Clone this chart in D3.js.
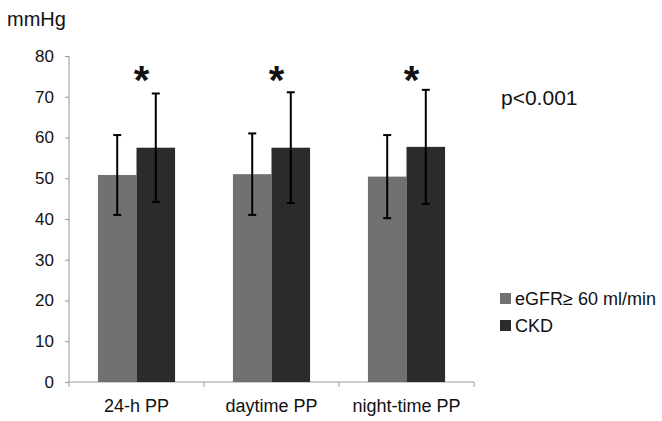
<!DOCTYPE html>
<html>
<head>
<meta charset="utf-8">
<script src="https://cdnjs.cloudflare.com/ajax/libs/d3/7.8.5/d3.min.js"></script>
<style>
  body { margin: 0; background: #fff; }
  svg text { font-family: "Liberation Sans", Arial, sans-serif; fill: #111; }
</style>
</head>
<body>
<div id="chart"></div>
<script>
var categories = ['24-h PP', 'daytime PP', 'night-time PP'];
var seriesNames = ['eGFR\u2265 60 ml/min', 'CKD'];
var egfrMeans = [50.8, 51.0, 50.4];
var egfrSD = [9.8, 10.0, 10.2];
var ckdMeans = [57.5, 57.5, 57.7];
var ckdSD = [13.3, 13.6, 14.0];
var yTicks = [0, 10, 20, 30, 40, 50, 60, 70, 80];

(function() {
  var width = 662, height = 421;
  var left = 69, right = 474, top = 56, bottom = 382;
  var colors = ['#717171', '#2b2b2b'];
  var svg, x, xi, y, rows, g, legend;

  svg = d3.select('#chart').append('svg')
    .attr('width', width)
    .attr('height', height);

  x = d3.scaleBand().domain(categories).range([left, right]).paddingInner(0).paddingOuter(0);
  // bars sit in the middle of each band, gap ~ 150% of one bar
  xi = d3.scaleBand().domain([0, 1]).range([0, x.bandwidth()]).paddingInner(0).paddingOuter(0.75);
  y = d3.scaleLinear().domain([0, 80]).range([bottom, top]);

  rows = categories.map(function(c, i) {
    return {
      cat: c,
      vals: [
        { s: 0, m: egfrMeans[i], sd: egfrSD[i] },
        { s: 1, m: ckdMeans[i], sd: ckdSD[i] }
      ]
    };
  });

  // y axis
  var yAxis = svg.append('g')
    .attr('transform', 'translate(' + left + ',0)')
    .call(d3.axisLeft(y).tickValues(yTicks).tickSize(4).tickPadding(11));
  yAxis.select('.domain').attr('stroke', '#9a9a9a').attr('d', 'M0,' + top + 'V' + bottom);
  yAxis.selectAll('.tick line').attr('stroke', '#9a9a9a');
  yAxis.selectAll('.tick text').style('font-size', '17px').attr('fill', '#111');

  // x axis with boundary ticks
  var xAxis = svg.append('g').attr('transform', 'translate(0,' + bottom + ')');
  xAxis.append('line')
    .attr('x1', left).attr('x2', right)
    .attr('stroke', '#9a9a9a');
  xAxis.selectAll('line.sep')
    .data(categories.concat(['end']))
    .enter().append('line')
    .attr('class', 'sep')
    .attr('x1', function(d, i) { return left + i * x.bandwidth(); })
    .attr('x2', function(d, i) { return left + i * x.bandwidth(); })
    .attr('y1', 0).attr('y2', 5)
    .attr('stroke', '#9a9a9a');
  xAxis.selectAll('text')
    .data(categories)
    .enter().append('text')
    .attr('x', function(d) { return x(d) + x.bandwidth() / 2; })
    .attr('y', 30)
    .attr('text-anchor', 'middle')
    .style('font-size', '18px')
    .text(function(d) { return d; });

  g = svg.selectAll('g.group')
    .data(rows)
    .enter().append('g')
    .attr('class', 'group')
    .attr('transform', function(d) { return 'translate(' + x(d.cat) + ',0)'; });

  g.selectAll('rect')
    .data(function(d) { return d.vals; })
    .enter().append('rect')
    .attr('x', function(d) { return xi(d.s); })
    .attr('y', function(d) { return y(d.m); })
    .attr('width', xi.bandwidth())
    .attr('height', function(d) { return y(0) - y(d.m); })
    .attr('fill', function(d) { return colors[d.s]; });

  // error bars
  var eb = g.selectAll('g.err')
    .data(function(d) { return d.vals; })
    .enter().append('g')
    .attr('class', 'err')
    .attr('stroke', '#000')
    .attr('stroke-width', 2);
  eb.append('line')
    .attr('x1', function(d) { return xi(d.s) + xi.bandwidth() / 2; })
    .attr('x2', function(d) { return xi(d.s) + xi.bandwidth() / 2; })
    .attr('y1', function(d) { return y(d.m + d.sd); })
    .attr('y2', function(d) { return y(d.m - d.sd); });
  eb.selectAll('line.cap')
    .data(function(d) { return [{ s: d.s, v: d.m + d.sd }, { s: d.s, v: d.m - d.sd }]; })
    .enter().append('line')
    .attr('class', 'cap')
    .attr('x1', function(d) { return xi(d.s) + xi.bandwidth() / 2 - 4; })
    .attr('x2', function(d) { return xi(d.s) + xi.bandwidth() / 2 + 4; })
    .attr('y1', function(d) { return y(d.v); })
    .attr('y2', function(d) { return y(d.v); });

  // significance stars
  g.append('text')
    .attr('x', function() { return xi(1) + 5; })
    .attr('y', 94)
    .attr('text-anchor', 'middle')
    .style('font-size', '40px')
    .style('font-weight', 'bold')
    .attr('fill', '#000')
    .text('*');

  svg.append('text')
    .attr('x', 7).attr('y', 26)
    .style('font-size', '20px')
    .text('mmHg');

  svg.append('text')
    .attr('x', 501).attr('y', 105)
    .style('font-size', '21px')
    .text('p<0.001');

  legend = svg.selectAll('g.legend')
    .data(seriesNames)
    .enter().append('g')
    .attr('class', 'legend')
    .attr('transform', function(d, i) { return 'translate(500,' + (298 + i * 27) + ')'; });
  legend.append('rect')
    .attr('x', 0).attr('y', -5)
    .attr('width', 11).attr('height', 11)
    .attr('fill', function(d, i) { return colors[i]; });
  legend.append('text')
    .attr('x', 15).attr('y', 7)
    .style('font-size', '18px')
    .text(function(d) { return d; });
})();
</script>
</body>
</html>
